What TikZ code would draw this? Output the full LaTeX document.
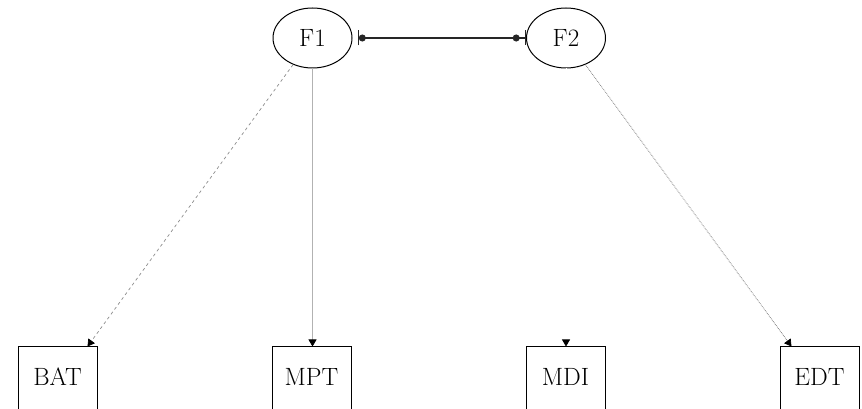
\documentclass[tikz,border=0pt]{standalone}
\usetikzlibrary{arrows.meta,shapes.geometric}
\begin{document}
\begin{tikzpicture}[x=1pt,y=1pt,
  lat/.style={draw, line width=1pt, ellipse, minimum width=79pt, minimum height=60pt, inner sep=0pt, font=\fontsize{25}{28}\selectfont},
  obs/.style={draw, line width=1pt, rectangle, minimum width=79pt, minimum height=65pt, inner sep=0pt, font=\fontsize{25}{28}\selectfont},
  load/.style={-{Triangle[length=7pt,width=8pt,black]}, line width=0.7pt}
]
\useasboundingbox (0,0) rectangle (862,409);
\node[lat] (F1) at (312.5,371) {F1};
\node[lat] (F2) at (566,371) {F2};
\node[obs] (BAT) at (57.5,29.5) {\raisebox{5pt}{BAT}};
\node[obs] (MPT) at (311.5,29.5) {\raisebox{5pt}{MPT}};
\node[obs] (MDI) at (565.5,29.5) {\raisebox{5pt}{MDI}};
\node[obs] (EDT) at (819.5,29.5) {\raisebox{5pt}{EDT}};
\coordinate (batend) at ([xshift=-10pt]BAT.north east);
\coordinate (edtend) at ([xshift=12pt]EDT.north west);
\draw[load, black!45, dashed] (F1) -- (batend);
\draw[load, black!30] (F1.south) -- (F1.south |- MPT.north);
\draw[load, black!60, densely dotted] (F2) -- (edtend);
\draw[load, white] (F2.south) -- (F2.south |- MDI.north);
\draw[{Bar[width=15pt,sep=5pt]Circle[length=7pt]}-{Circle[length=7pt,sep=5pt]Bar[width=15pt]}, line width=1.3pt, black!85] (F1) -- (F2);
\end{tikzpicture}
\end{document}
